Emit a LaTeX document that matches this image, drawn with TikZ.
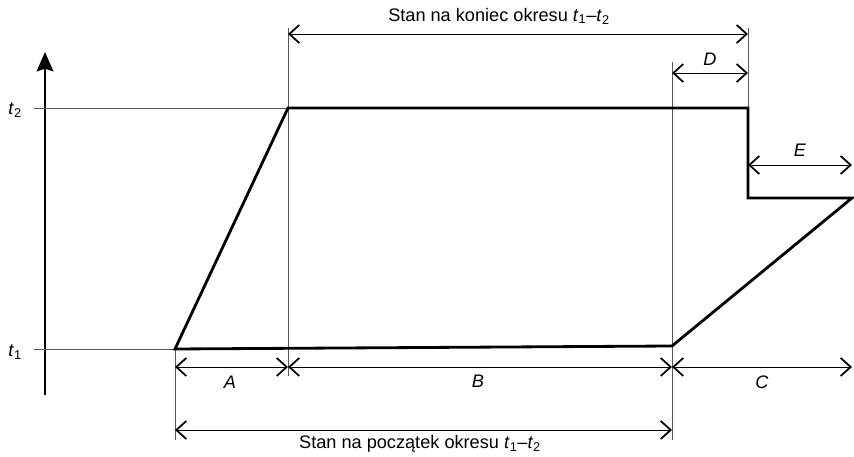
\documentclass[tikz,border=0pt]{standalone}
\usepackage{fontspec}
\setmainfont{Liberation Sans}
\usetikzlibrary{arrows.meta,positioning}
\tikzset{
  outline/.style={line width=2.4pt, line join=miter},
  guide/.style={line width=0.5pt, draw=black!65},
  dimline/.style={{Straight Barb[length=3mm,width=5.4mm,line width=1.5pt]}-{Straight Barb[length=3mm,width=5.4mm,line width=1.5pt]}, line width=0.5pt},
  axisarr/.style={-{Stealth[length=5.8mm,width=5mm,inset=0.8mm]}, line width=2.3pt},
  lbl/.style={font=\fontsize{15.5}{18}\selectfont, inner sep=1pt},
}
\newcommand{\tsub}[1]{\textit{t}\textsubscript{#1}}

\begin{document}
\begin{tikzpicture}[x=0.03cm, y=-0.03cm]
  \useasboundingbox (0,0) rectangle (854,457);
  % corners of the stock outline
  \coordinate (a0) at (175,349);
  \coordinate (a1) at (288,108);
  \coordinate (a2) at (748,108);
  \coordinate (a3) at (748,198);
  \coordinate (a4) at (852,198);
  \coordinate (a5) at (672,346);
  % time axis
  \coordinate (axbot) at (45,395);
  \coordinate (axtop) at (45,52);
  \draw[axisarr] (axbot) -- (axtop);
  \node[lbl] (t2) at (15,110) {\tsub{2}};
  \node[lbl] (t1) at (15,352) {\tsub{1}};
  % thin guide lines
  \coordinate (g2) at (34,108);
  \coordinate (g1) at (34,349);
  \draw[guide] (g2) -- (a1);
  \draw[guide] (g1) -- (a0);
  \coordinate (v0a) at (175,440);
  \coordinate (v1a) at (288,28);  \coordinate (v1b) at (288,376);
  \coordinate (v2a) at (672,62);  \coordinate (v2b) at (672,440);
  \coordinate (v3a) at (748,28);
  \draw[guide] (a0) -- (v0a);
  \draw[guide] (v1a) -- (v1b);
  \draw[guide] (v2a) -- (v2b);
  \draw[guide] (v3a) -- (a2);
  % outline
  \draw[outline] (a0) -- (a1) -- (a2) -- (a3) -- (a4) -- (a5) -- cycle;
  % dimension lines
  \coordinate (k0) at (288,34);  \coordinate (k1) at (748,34);
  \coordinate (d0) at (672,73);  \coordinate (d1) at (748,73);
  \coordinate (e0) at (748,165); \coordinate (e1) at (852,165);
  \coordinate (r0) at (175,367); \coordinate (r1) at (288,367);
  \coordinate (r2) at (672,367); \coordinate (r3) at (852,367);
  \coordinate (s0) at (175,430); \coordinate (s1) at (672,430);
  \draw[dimline] (k0) -- (k1);
  \draw[dimline] (d0) -- (d1);
  \draw[dimline] (e0) -- (e1);
  \draw[dimline] (r0) -- (r1);
  \draw[dimline] (r1) -- (r2);
  \draw[dimline] (r2) -- (r3);
  \draw[dimline] (s0) -- (s1);
  % labels
  \node[lbl] (koniec) at (499,16) {Stan na koniec okresu \tsub{1}–\tsub{2}};
  \node[lbl] (poczatek) at (420,444) {Stan na początek okresu \tsub{1}–\tsub{2}};
  \node[lbl] (labD) at (710,59) {\textit{D}};
  \node[lbl] (labE) at (800,150) {\textit{E}};
  \node[lbl] (labA) at (230,382) {\textit{A}};
  \node[lbl] (labB) at (478,381) {\textit{B}};
  \node[lbl] (labC) at (762,382) {\textit{C}};
\end{tikzpicture}
\end{document}
